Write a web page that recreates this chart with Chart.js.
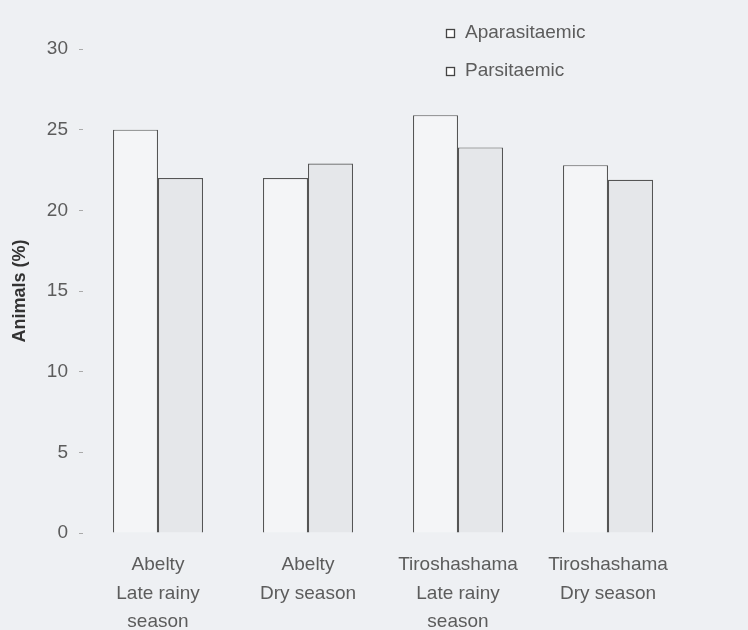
<!DOCTYPE html>
<html>
<head>
<meta charset="utf-8">
<script src="https://cdn.jsdelivr.net/npm/chart.js@4.4.0/dist/chart.umd.min.js"></script>
<style>
  html, body { margin: 0; padding: 0; background: #eef0f3; }
  #wrap { width: 748px; height: 630px; }
</style>
</head>
<body>
<div id="wrap"><canvas id="grafico"></canvas></div>
<script>
// Datos
const categorias = [
    ['Abelty', 'Late rainy', 'season'],
    ['Abelty', 'Dry season'],
    ['Tiroshashama', 'Late rainy', 'season'],
    ['Tiroshashama', 'Dry season']
];
const aparasitaemic = [25, 22, 25.9, 22.8];
const parsitaemic = [22, 22.9, 23.9, 21.9];
const ticksY = [0, 5, 10, 15, 20, 25, 30];

const colorTexto = '#5c5c5c';
const colorBorde = '#555555';
const fuente = '"Liberation Sans", Arial, sans-serif';

// Leyenda dibujada dentro del área del gráfico (arriba a la derecha)
const leyendaInterna = {
    id: 'leyendaInterna',
    afterDraw(chart) {
        const ctx = chart.ctx;
        ctx.save();
        ctx.font = '19px ' + fuente;
        ctx.textBaseline = 'middle';
        const filas = [33, 71];
        chart.data.datasets.forEach((ds, i) => {
            const y = filas[i];
            ctx.fillStyle = '#ffffff';
            ctx.fillRect(446, y - 4, 8, 8);
            ctx.strokeStyle = '#444';
            ctx.lineWidth = 1.3;
            ctx.strokeRect(446.5, y - 3.5, 8, 8);
            ctx.fillStyle = colorTexto;
            ctx.fillText(ds.label, 465, y);
        });
        ctx.restore();
    }
};

new Chart(document.getElementById('grafico'), {
    type: 'bar',
    data: {
        labels: categorias,
        datasets: [{
            label: 'Aparasitaemic',
            data: aparasitaemic,
            backgroundColor: '#f4f5f7',
            borderColor: colorBorde,
            borderWidth: 1.2
        }, {
            label: 'Parsitaemic',
            data: parsitaemic,
            backgroundColor: '#e5e7ea',
            borderColor: colorBorde,
            borderWidth: 1.2
        }]
    },
    options: {
        responsive: true,
        maintainAspectRatio: false,
        animation: false,
        datasets: { bar: { barPercentage: 1, categoryPercentage: 0.6 } },
        layout: { padding: { top: 49, right: 65, left: 9, bottom: 0 } },
        plugins: {
            legend: { display: false },
            tooltip: { enabled: false }
        },
        scales: {
            x: {
                grid: { display: false },
                border: { display: false },
                ticks: {
                    color: colorTexto,
                    font: { family: fuente, size: 19, lineHeight: 1.5 },
                    padding: 10,
                    maxRotation: 0
                },
                afterFit: (s) => { s.height = 97; }
            },
            y: {
                min: 0,
                max: 30,
                afterBuildTicks: (s) => { s.ticks = ticksY.map(v => ({ value: v })); },
                grid: { drawOnChartArea: false, drawTicks: true, tickLength: 4, color: '#aaaaaa' },
                border: { display: false },
                ticks: {
                    color: colorTexto,
                    font: { family: fuente, size: 19 },
                    padding: 11
                },
                title: {
                    display: true,
                    text: 'Animals (%)',
                    color: '#333',
                    font: { family: fuente, size: 18, weight: 'bold' },
                    padding: { top: 0, bottom: 0 }
                },
                afterFit: (s) => { s.width = 74; }
            }
        }
    },
    plugins: [leyendaInterna]
});
</script>
</body>
</html>
